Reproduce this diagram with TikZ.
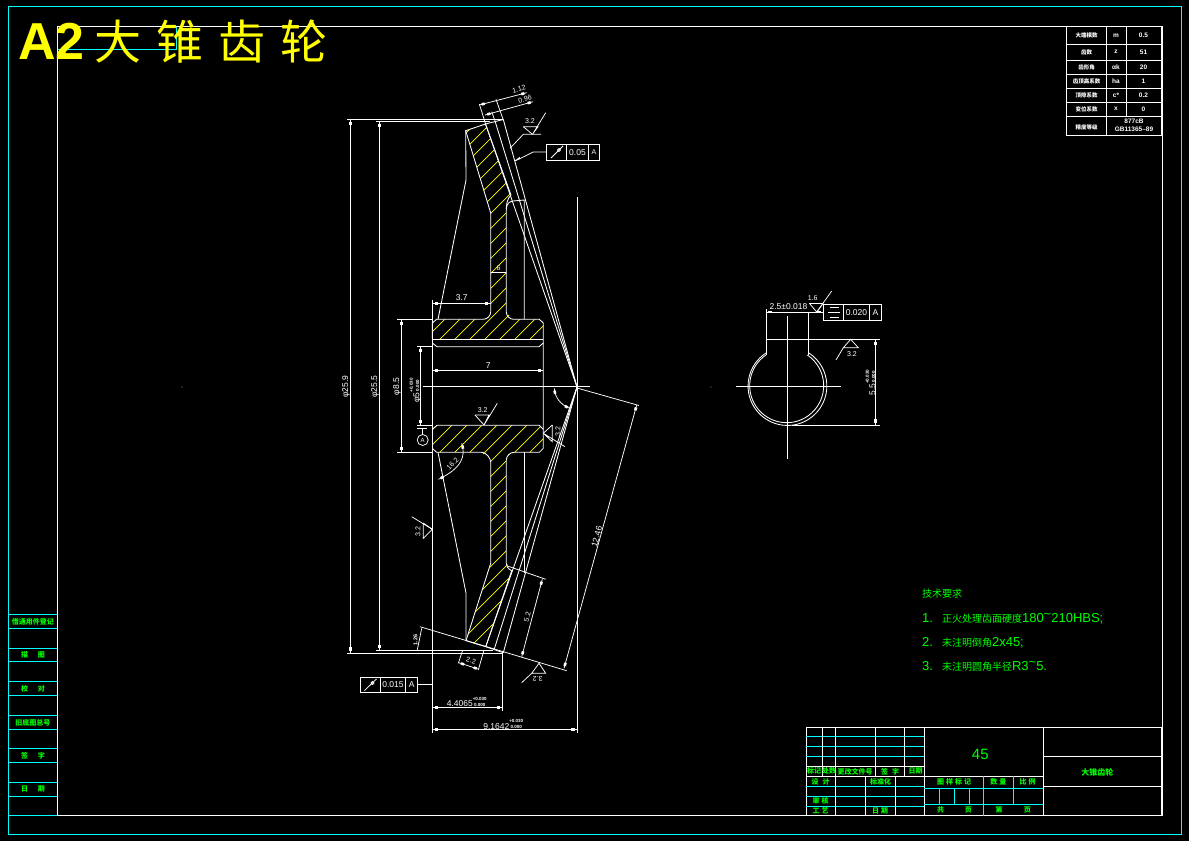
\documentclass[tikz,border=0pt]{standalone}
\usepackage{fontspec}
\setmainfont{Liberation Sans}
\newfontfamily\cjk{Noto Sans CJK SC}
\usetikzlibrary{decorations.markings}
\definecolor{cadcyan}{HTML}{00FFFF}
\definecolor{cadgreen}{HTML}{00FF00}
\definecolor{cadyellow}{HTML}{FFFF00}
\tikzset{
  outline/.style={draw=white,line width=0.85pt},
  thinline/.style={draw=white,line width=0.75pt},
  cyanline/.style={draw=cadcyan,line width=0.85pt},
  hatchline/.style={draw=cadyellow,line width=0.7pt},
  dimline/.style={thinline,postaction={decorate},decoration={markings,
      mark=at position 4pt with {\fill[white] (-1.6pt,-1.3pt) rectangle (1.6pt,1.3pt);},
      mark=at position -4pt with {\fill[white] (-1.6pt,-1.3pt) rectangle (1.6pt,1.3pt);}}},
  dimtext/.style={text=white,inner sep=0pt,font=\fontsize{8.5}{8.5}\selectfont},
  smalltext/.style={text=white,inner sep=0pt,font=\fontsize{7}{7}\selectfont},
  tabletext/.style={text=white,inner sep=0pt,font=\cjk\bfseries\fontsize{5.5}{6}\selectfont},
  tablevalue/.style={text=white,inner sep=0pt,font=\bfseries\fontsize{6.5}{6.5}\selectfont},
  blocktext/.style={text=cadgreen,inner sep=0pt,font=\cjk\bfseries\fontsize{7}{7}\selectfont},
  notetext/.style={text=cadgreen,inner sep=0pt,anchor=west,font=\cjk\fontsize{10}{10}\selectfont},
}
\newcommand{\tolstack}{\raisebox{0.3pt}{\bfseries\fontsize{4.5}{3.6}\selectfont\shortstack{+0.030\\0.000}}}
\newcommand{\notelatin}[1]{{\rmfamily\fontsize{13}{13}\selectfont #1}}
\begin{document}
\begin{tikzpicture}[x=1pt,y=-1pt]
  \fill[black] (0,0) rectangle (1189,841);
  \useasboundingbox (0,0) rectangle (1189,841);

  % Draw the sheet frame
  \draw[cyanline] (8,6) rectangle (1181,834);
  \draw[cyanline] (57,49.3) -- (176,49.3) -- (176,26);
  \draw[outline] (57,26) rectangle (1162,815.5);
  \draw[cyanline] (8,815.5) -- (57,815.5);
  \foreach \y in {614,628,648,661,681,695,715,729,748,762,782,796} {
    \draw[cyanline] (8,\y) -- (57,\y);
  }
  \fill[gray] (182,387) circle (0.6);
  \fill[gray] (711,387) circle (0.6);

  % Sheet title
  \node[text=cadyellow,inner sep=0pt,anchor=base west,font=\bfseries\fontsize{52}{52}\selectfont] (titleA) at (18,59.5) {A2};
  \node[text=cadyellow,inner sep=0pt,anchor=base west,font=\cjk\fontsize{47}{47}\selectfont] (titleB) at (94,59.5) {大\hspace{15pt}锥\hspace{15pt}齿\hspace{15pt}轮};

  % Hatching of the upper and lower section
  \begin{scope}
    \clip (465.7,130.7) -- (485.5,124) -- (511,195) -- (506.3,208) -- (506.3,312) -- (513.3,319.3) -- (539.3,319.3) -- (543.3,323) -- (543.3,339.3) -- (432.3,339.3) -- (432.3,323) -- (436.6,319.3) -- (483.3,319.3) -- (490.7,312) -- (490.7,213) -- cycle;
    \foreach \c in {0,...,20} {
      \draw[hatchline] (400,{199+15*\c}) -- (600,{-1+15*\c});
    }
  \end{scope}
  \begin{scope}
    \clip (437,425.3) -- (539.3,425.3) -- (543.3,429.3) -- (543.3,448.3) -- (539.3,452.3) -- (514,452.3) -- (506.3,460) -- (506.3,563.3) -- (511.7,570.7) -- (485.7,646.7) -- (466,640.7) -- (490.7,563.3) -- (490.7,462.3) -- (481.7,452.3) -- (436.6,452.3) -- (432.3,448.3) -- (432.3,429.3) -- cycle;
    \foreach \c in {0,...,20} {
      \draw[hatchline] (400,{447+15*\c}) -- (600,{247+15*\c});
    }
  \end{scope}

  % Draw the upper section
  \draw[outline] (503.3,119.5) -- (485.5,124) -- (465.7,130.7) -- (490.7,213) -- (490.7,312) .. controls (490.7,316) and (487,319.3) .. (483.3,319.3) -- (436.6,319.3) -- (432.3,323) -- (432.3,339.3);
  \draw[outline] (485.5,124) -- (511,195) .. controls (507,199) and (506.3,204) .. (506.3,210) -- (506.3,312) .. controls (506.3,316) and (510,319.3) .. (513.3,319.3) -- (539.3,319.3) -- (543.3,323) -- (543.3,448.3) -- (539.3,452.3) -- (514,452.3) .. controls (510,452.3) and (506.3,456) .. (506.3,460) -- (506.3,563.3) .. controls (506.3,566) and (508,569) .. (511.7,570.7) -- (485.7,646.7);
  \draw[outline] (506.3,208) .. controls (507,204) and (509,201.5) .. (513,201) -- (524.3,200) -- (524.3,319.3);
  \draw[outline] (432.3,339.3) -- (543.3,339.3);
  \draw[outline] (432.3,343) -- (437,346.7) -- (539,346.7) -- (543.3,343);

  % Draw the lower section
  \draw[outline] (437,425.3) -- (539.3,425.3) -- (543.3,429.3);
  \draw[outline] (432.3,429.3) -- (437,425.3);
  \draw[outline] (432.3,448.3) -- (436.6,452.3) -- (481.7,452.3) .. controls (486,452.3) and (490.7,458) .. (490.7,462.3) -- (490.7,563.3) -- (466,640.7) -- (485.7,646.7) -- (503.3,652.7);
  \draw[outline] (524.3,452.3) -- (524.3,572.7);

  % Web of the blank
  \draw[outline] (465.7,130.7) -- (466,180) -- (438,319.3);
  \draw[outline] (438,452.3) -- (466,593) -- (466,640.7);

  % Cone lines to the apex
  \coordinate (apex) at (577,387);
  \draw[outline] (485.5,124) -- (apex);
  \draw[outline] (495,121) -- (apex);
  \draw[outline] (503.3,119.5) -- (apex);
  \draw[outline] (485.7,646.7) -- (apex);
  \draw[outline] (494,650) -- (apex);
  \draw[outline] (503.3,652.7) -- (apex);

  % Center line and long extension lines
  \draw[thinline] (422.7,386.5) -- (590,386.5);
  \draw[thinline] (432.3,300) -- (432.3,733);
  \draw[thinline] (577,197) -- (577,733);
  \draw[thinline] (347,119.3) -- (503.3,119.3);
  \draw[thinline] (376,121.5) -- (490,121.5);
  \draw[thinline] (347,653) -- (503.3,653);
  \draw[thinline] (376,650.3) -- (493,650.3);
  \draw[thinline] (397.3,319.3) -- (432.3,319.3);
  \draw[thinline] (397.3,452.3) -- (432.3,452.3);
  \draw[thinline] (417.3,346.7) -- (432.3,346.7);
  \draw[thinline] (417.3,425.3) -- (432.3,425.3);
  \draw[thinline] (420,626.7) -- (566.7,670.7);
  \draw[thinline] (502.3,652.7) -- (502.3,711);

  % Diameter dimensions
  \draw[dimline] (350.5,119.3) -- (350.5,653);
  \node[dimtext,rotate=90] (dimA) at (346,386.5) {φ25.9};
  \draw[dimline] (379.5,121.5) -- (379.5,650.3);
  \node[dimtext,rotate=90] (dimB) at (375,386.5) {φ25.5};
  \draw[dimline] (401.3,319.3) -- (401.3,452.3);
  \node[dimtext,rotate=90] (dimC) at (397,386.5) {φ8.5};
  \draw[dimline] (420.3,346.7) -- (420.3,425.3);
  \node[dimtext,rotate=90] (dimD) at (415.5,390.5) {φ5\tolstack};

  % Length dimensions
  \draw[dimline] (432.3,370.3) -- (543.3,370.3);
  \node[dimtext] (dimE) at (488.3,365.5) {7};
  \draw[dimline] (432.3,303.3) -- (490.7,303.3);
  \node[dimtext] (dimF) at (461.7,298) {3.7};
  \draw[dimline] (432.3,707.3) -- (502.3,707.3);
  \node[dimtext] (dimG) at (466.7,702) {4.4065\tolstack};
  \draw[dimline] (432.3,729.3) -- (577,729.3);
  \node[dimtext] (dimH) at (503.3,724.5) {9.1642\tolstack};
  \draw[thinline] (490.7,272.7) -- (506.3,272.7);
  \node[smalltext] (dimI) at (498.5,268.5) {6};

  % Tooth dimensions at the top
  \draw[thinline] (479.3,104) -- (485.7,124.3);
  \draw[thinline] (491.7,111.7) -- (495,121);
  \draw[thinline] (496,99.3) -- (503.3,120);
  \draw[dimline] (479.3,105) -- (526.7,92.7);
  \node[smalltext,rotate=15] (dimJ) at (519,89) {1.12};
  \draw[dimline] (485,115) -- (533,101.7);
  \node[smalltext,rotate=15] (dimK) at (525,99) {0.96};

  % Tooth dimensions at the bottom
  \draw[thinline] (506.7,565.7) -- (545.7,579.3);
  \draw[dimline] (542.3,579.3) -- (521.7,656.7);
  \node[smalltext,rotate=75] (dimL) at (527.3,617.3) {5.2};
  \draw[thinline] (462.7,650) -- (458.3,663.3);
  \draw[thinline] (484,650) -- (478.3,670);
  \draw[dimline] (458.7,662.7) -- (479,669.3);
  \node[smalltext,rotate=-15] (dimM) at (471,660.5) {2.2};
  \draw[thinline] (417.3,650) -- (421.7,628.3);
  \node[text=white,inner sep=0pt,rotate=90,font=\bfseries\fontsize{5.5}{5.5}\selectfont] (dimP) at (415.5,640) {1.26};
  \draw[thinline] (578,388.3) -- (639,405.5);
  \draw[dimline] (636.7,405) -- (564,668.3);
  \node[dimtext,rotate=75] (dimN) at (596.7,536.7) {12.46};

  % Angle and fillet dimensions
  \draw[dimline] (554.3,388.3) .. controls (554.5,396) and (560,405) .. (570,408.3);
  \draw[dimline] (461.7,443.3) .. controls (466,456) and (462,468) .. (438.5,479.3);
  \node[smalltext,rotate=45] (dimO) at (452.5,463.5) {16.2};

  % Roughness marks
  \draw[thinline] (510,148.3) -- (523.3,134.3) -- (541,134.3);
  \draw[thinline] (523.3,126.7) -- (538,126.7) -- (532.5,134.3) -- (545.7,112.7);
  \draw[thinline] (523.3,126.7) -- (532.5,134.3);
  \node[smalltext] (finA) at (530,121.5) {3.2};
  \draw[thinline] (475,415) -- (489,415) -- (484,425) -- (497.3,403.3);
  \draw[thinline] (475,415) -- (484,425);
  \node[smalltext] (finB) at (482.7,410) {3.2};
  \draw[thinline] (552.3,425) -- (552.3,441.7) -- (543.3,433.3) -- (565,446.7);
  \draw[thinline] (552.3,425) -- (543.3,433.3);
  \node[smalltext,rotate=90] (finC) at (558,431.7) {3.2};
  \draw[thinline] (423.3,523) -- (423.3,538.3) -- (432.3,529.3) -- (411.7,516.7);
  \draw[thinline] (423.3,523) -- (432.3,529.3);
  \node[smalltext,rotate=90] (finD) at (418,531.7) {3.2};
  \draw[thinline] (539,663.3) -- (531.7,673.3) -- (545.7,673.3) -- (539,663.3);
  \draw[thinline] (531.7,673.3) -- (521.7,682.7);
  \node[smalltext,rotate=180] (finE) at (537.7,678.7) {3.2};

  % Datum A
  \draw[thinline] (417.3,428) -- (427.3,428);
  \draw[thinline] (422.5,428) -- (422.5,434.5);
  \node[circle,draw=white,line width=0.75pt,text=white,inner sep=0pt,minimum size=11pt,font=\fontsize{6}{6}\selectfont] (datumA) at (422.7,440) {A};

  % Tolerance frame at the top
  \draw[thinline] (515,161) -- (533.3,152) -- (546.7,152);
  \fill[white] (515,160.5) -- (519.5,157) -- (520.5,159) -- cycle;
  \draw[thinline] (546.7,144.3) rectangle (599.3,160.3);
  \draw[thinline] (566.7,144.3) -- (566.7,160.3);
  \draw[thinline] (588.3,144.3) -- (588.3,160.3);
  \draw[thinline] (551,158) -- (563,146);
  \draw[thinline] (559,150) circle (1.5);
  \node[dimtext] (fcfA) at (577.5,152.3) {0.05};
  \node[smalltext] (fcfB) at (594,152.3) {A};

  % Tolerance frame at the bottom
  \draw[thinline] (417.7,684.3) -- (432.3,684.3);
  \draw[thinline] (360,677.3) rectangle (417.7,692.3);
  \draw[thinline] (380.3,677.3) -- (380.3,692.3);
  \draw[thinline] (405.7,677.3) -- (405.7,692.3);
  \draw[thinline] (364.5,690.5) -- (376.5,679);
  \draw[thinline] (372.5,683) circle (1.5);
  \node[dimtext] (fcfC) at (393,685) {0.015};
  \node[dimtext] (fcfD) at (411.7,685) {A};

  % Draw the keyway view
  \draw[thinline] (736,386.3) -- (840.7,386.3);
  \draw[thinline] (787.3,316) -- (787.3,459);
  \draw[outline] (766,355) -- (766,309.3);
  \draw[outline] (808.3,355) -- (808.3,312);
  \draw[thinline] (766,339.3) -- (880,339.3);
  \draw[thinline] (791.7,425) -- (880,425);
  \draw[outline] (766,355) arc[start angle=236,end angle=-56,radius=37];
  \draw[outline] (766,353) arc[start angle=237,end angle=-57,radius=39.4];

  % Keyway dimensions
  \draw[dimline] (766,312) -- (823,312);
  \node[dimtext] (keyA) at (788.5,307) {2.5±0.018};
  \draw[dimline] (875.7,339.3) -- (875.7,425);
  \node[dimtext,rotate=90] (keyB) at (870.7,382.7) {5.5\tolstack};
  \draw[thinline] (809.3,303.3) -- (823.3,303.3);
  \draw[thinline] (809.3,303.3) -- (816.7,312) -- (831.7,291);
  \draw[thinline] (823.3,303.3) -- (816.7,312);
  \node[smalltext] (keyC) at (812.7,298.5) {1.6};
  \draw[thinline] (843.3,304.3) -- (843.3,320.3);
  \draw[thinline] (869.3,304.3) -- (869.3,320.3);
  \draw[thinline] (823.3,304.3) rectangle (881.7,320.3);
  \draw[thinline] (829.5,307.5) -- (838.5,307.5);
  \draw[thinline] (828.3,312.3) -- (840,312.3);
  \draw[thinline] (829.5,317.3) -- (838.5,317.3);
  \node[dimtext] (keyD) at (856.5,313) {0.020};
  \node[dimtext] (keyE) at (875.5,312.5) {A};
  \draw[thinline] (843.3,347.7) -- (858.3,347.7) -- (850.7,339.3) -- (843.3,347.7) -- (836,360);
  \node[smalltext] (keyF) at (852,354.5) {3.2};

  % Gear data table
  \draw[outline] (1066,26) rectangle (1161,135);
  \foreach \y in {44.5,60,74.5,88.5,102,116} {
    \draw[outline] (1066,\y) -- (1161,\y);
  }
  \draw[outline] (1106.7,26) -- (1106.7,135);
  \draw[outline] (1126,26) -- (1126,116);
  \foreach \n/\y/\a/\b/\c in {a/35.5/大端模数/m/0.5,b/52/齿数/z/51,c/67/齿形角/αk/20,d/81.5/齿顶高系数/ha/1,e/95/顶隙系数/c*/0.2,f/109/变位系数/x/0} {
    \node[tabletext] (name\n) at (1086.7,\y) {\a};
    \node[tablevalue] (sign\n) at (1116,\y) {\b};
    \node[tablevalue] (value\n) at (1143.5,\y) {\c};
  }
  \node[tabletext] (nameg) at (1086.7,127.5) {精度等级};
  \node[tablevalue] (valueg) at (1134,121) {877cB};
  \node[tablevalue] (valueh) at (1134,129.5) {GB11365--89};

  % Title block
  \draw[outline] (806,727.3) rectangle (1161.7,815.5);
  \draw[outline] (924.3,727.3) -- (924.3,815.5);
  \draw[outline] (1043.3,727.3) -- (1043.3,815.5);
  \draw[outline] (1043.3,756.3) -- (1161.7,756.3);
  \draw[outline] (1043.3,786.3) -- (1161.7,786.3);
  \foreach \y in {736.3,746.3,756.3} {
    \draw[cyanline] (806,\y) -- (924.3,\y);
  }
  \foreach \y in {786.3,796.3,806.3} {
    \draw[cyanline] (806,\y) -- (924.3,\y);
  }
  \draw[outline] (806,766.3) -- (924.3,766.3);
  \draw[outline] (806,776.3) -- (1043.3,776.3);
  \foreach \x in {822.3,835.3,875.3,904.3} {
    \draw[outline] (\x,727.3) -- (\x,776.3);
  }
  \foreach \x in {835.3,865.3,895.3} {
    \draw[outline] (\x,776.3) -- (\x,815.5);
  }
  \draw[cyanline] (924.3,788.3) -- (1043.3,788.3);
  \draw[cyanline] (924.3,804.3) -- (1043.3,804.3);
  \draw[cyanline] (983.3,776.3) -- (983.3,815.5);
  \draw[cyanline] (1013.3,776.3) -- (1013.3,804.3);
  \foreach \x in {939.3,954.3,969.3} {
    \draw[cyanline] (\x,788.3) -- (\x,804.3);
  }
  \node[text=cadgreen,inner sep=0pt,font=\fontsize{15}{15}\selectfont] (material) at (980.3,754) {45};
  \node[blocktext,font=\cjk\bfseries\fontsize{8}{8}\selectfont] (partname) at (1097.3,772.3) {大锥齿轮};
  \foreach \n/\x/\y/\t in {a/814/771.3/标记,b/829/771.3/处数,c/855/771.3/更改文件号,d/890/771.3/签\hspace{4pt}字,e/915.7/771.3/日期,
      f/820.7/781.7/设\hspace{4pt}计,g/880.7/781.7/标准化,h/820.7/801/审\hspace{2pt}核,i/820.7/810.7/工\hspace{2pt}艺,j/880/811/日\hspace{2pt}期,
      k/954/782.3/图\hspace{2pt}样\hspace{2pt}标\hspace{2pt}记,l/998.3/782.3/数\hspace{2pt}量,m/1027.7/782.3/比\hspace{2pt}例,
      n/940.7/810/共,o/968.3/810/页,p/999/810/第,q/1027.3/810/页} {
    \node[blocktext] (block\n) at (\x,\y) {\t};
  }

  % Left column labels
  \foreach \n/\y/\t in {a/621.5/借通用件登记,b/655/描\hspace{10pt}图,c/688.5/校\hspace{10pt}对,d/722.5/旧底图总号,e/755.5/签\hspace{10pt}字,f/789/日\hspace{10pt}期} {
    \node[blocktext] (column\n) at (33,\y) {\t};
  }

  % Technical notes
  \node[notetext] (noteA) at (922,593.7) {技术要求};
  \node[notetext] (noteB) at (922,618.5) {\notelatin{1.}\hspace{9pt}正火处理齿面硬度\notelatin{180\raisebox{4pt}{\textasciitilde}210HBS;}};
  \node[notetext] (noteC) at (922,642.5) {\notelatin{2.}\hspace{9pt}未注明倒角\notelatin{2x45;}};
  \node[notetext] (noteD) at (922,666.5) {\notelatin{3.}\hspace{9pt}未注明圆角半径\notelatin{R3\raisebox{4pt}{\textasciitilde}5.}};
\end{tikzpicture}
\end{document}
